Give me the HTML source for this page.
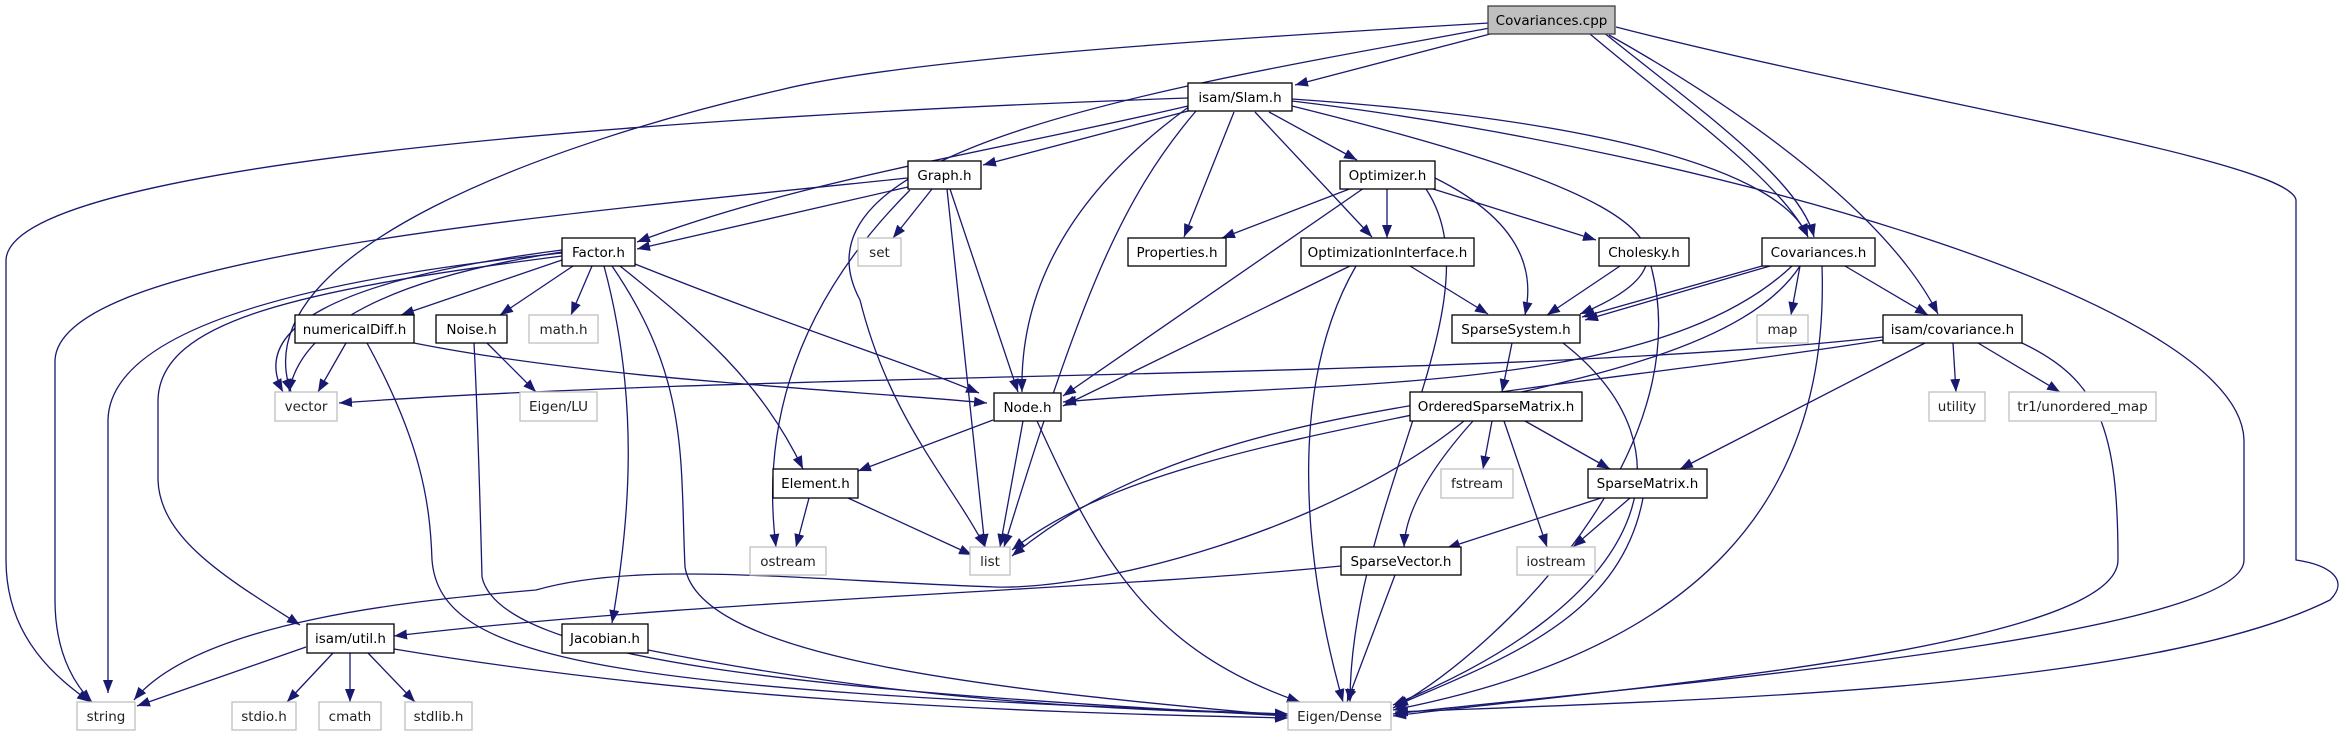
<!DOCTYPE html>
<html><head><meta charset="utf-8"><style>
html,body{margin:0;padding:0;background:#fff;}
svg{display:block;}
text{font-family:"DejaVu Sans","Liberation Sans",sans-serif;font-size:13.5px;text-anchor:middle;}
.n rect{fill:#fff;stroke:#000;stroke-width:1.3;}
.g rect{fill:#fff;stroke:#c0c0c0;stroke-width:1.3;}
.g text{fill:#222;}
.e path{fill:none;stroke:#191970;stroke-width:1.3;}
</style></head><body>
<svg width="2344" height="736" viewBox="0 0 2344 736" xmlns="http://www.w3.org/2000/svg">
<defs>
<marker id="a" markerUnits="userSpaceOnUse" markerWidth="14" markerHeight="10" refX="13" refY="5" orient="auto">
<path d="M0,0 L13,5 L0,10 z" fill="#191970"/>
</marker>
</defs>
<g class="e" marker-end="url(#a)">
<!-- Covariances.cpp -->
<path d="M1494,33 L1295,85"/>
<path d="M1590,34 C1680,110 1780,180 1808,237"/>
<path d="M1603,32 C1700,110 1800,180 1814,237"/>
<path d="M1609,35 C1760,120 1890,220 1938,314"/>
<path d="M1616,27 C1900,100 2290,160 2296,200 L2296,560 C2330,565 2350,580 2330,600 C2150,690 1700,700 1395,712"/>
<path d="M1489,23 C1200,40 900,60 780,90 C560,140 240,250 291,392"/>
<path d="M1490,28 C1150,90 780,150 860,300 C890,420 950,480 985,547"/>
<!-- Slam.h -->
<path d="M1188,98 C700,115 10,160 6,260 L6,560 C6,640 60,680 90,702"/>
<path d="M1188,106 C1000,150 800,180 637,242"/>
<path d="M1188,111 L983,165"/>
<path d="M1190,106 C1060,200 1020,300 1022,392"/>
<path d="M1196,111 C1120,200 1080,300 1004,547"/>
<path d="M1234,112 L1184,237"/>
<path d="M1269,112 L1357,160"/>
<path d="M1255,112 L1372,237"/>
<path d="M1292,106 C1550,170 1760,240 1580,314"/>
<path d="M1292,99 C1600,120 1780,170 1808,237"/>
<path d="M1292,101 C1700,150 2240,300 2244,440 L2244,560 C2244,640 1600,690 1393,714"/>
<!-- Graph.h -->
<path d="M908,187 L637,249"/>
<path d="M908,178 C500,220 60,260 55,360 L55,600 C55,660 80,690 92,702"/>
<path d="M932,189 L893,238"/>
<path d="M947,189 L985,547"/>
<path d="M950,189 L1018,392"/>
<path d="M910,190 C800,300 760,420 776,547"/>
<!-- Optimizer.h -->
<path d="M1352,188 L1222,238"/>
<path d="M1387,188 L1387,238"/>
<path d="M1430,188 L1596,240"/>
<path d="M1435,178 C1540,230 1530,290 1525,315"/>
<path d="M1364,188 L1063,396"/>
<path d="M1426,189 C1500,300 1350,500 1350,702"/>
<!-- OptimizationInterface.h -->
<path d="M1410,266 L1488,314"/>
<path d="M1350,266 L1063,406"/>
<path d="M1356,266 C1290,380 1300,550 1343,702"/>
<!-- Cholesky.h -->
<path d="M1620,266 L1547,315"/>
<path d="M1651,266 C1700,450 1500,650 1393,708"/>
<!-- Covariances.h -->
<path d="M1762,266 L1582,317"/>
<path d="M1770,266 L1585,320"/>
<path d="M1800,266 L1791,315"/>
<path d="M1845,266 L1928,315"/>
<path d="M1792,266 C1650,400 1300,380 1063,402"/>
<path d="M1800,266 C1700,420 1200,400 1012,550"/>
<path d="M1822,266 C1830,500 1700,650 1393,710"/>
<!-- isam/covariance.h -->
<path d="M1883,337 C1500,380 800,370 339,403"/>
<path d="M1883,340 C1500,400 1200,400 1012,556"/>
<path d="M1953,343 L1956,392"/>
<path d="M1978,343 L2060,392"/>
<path d="M1925,343 L1680,469"/>
<path d="M2022,343 C2100,380 2118,430 2118,560 C2118,650 1600,690 1393,716"/>
<!-- SparseSystem.h -->
<path d="M1512,343 L1502,392"/>
<path d="M1563,343 C1700,450 1650,600 1393,705"/>
<!-- OrderedSparseMatrix.h -->
<path d="M1492,421 L1483,469"/>
<path d="M1525,421 L1610,469"/>
<path d="M1473,421 C1420,480 1405,520 1404,547"/>
<path d="M1504,421 L1547,547"/>
<path d="M1464,421 C1330,530 1100,590 995,587 C800,580 640,560 536,590 C420,600 200,620 134,700"/>
<!-- SparseVector.h -->
<path d="M1341,566 C1100,590 700,600 394,636"/>
<path d="M1395,575 L1347,702"/>
<!-- SparseMatrix.h -->
<path d="M1601,498 L1447,548"/>
<path d="M1630,498 L1573,547"/>
<path d="M1643,498 C1620,620 1500,660 1395,706"/>
<!-- Node.h -->
<path d="M993,420 L858,471"/>
<path d="M1023,421 L1000,547"/>
<path d="M1037,421 C1100,560 1150,650 1300,702"/>
<!-- Element.h -->
<path d="M809,498 L796,547"/>
<path d="M848,498 L972,555"/>
<!-- Factor.h -->
<path d="M562,260 L401,315"/>
<path d="M573,266 L500,315"/>
<path d="M592,266 L571,315"/>
<path d="M635,264 C800,330 900,360 979,393"/>
<path d="M620,266 C700,330 760,380 803,469"/>
<path d="M604,266 C640,400 630,520 612,623"/>
<path d="M612,266 C690,380 680,460 685,567 C700,660 1000,690 1288,716"/>
<path d="M562,256 C300,290 160,320 158,400 L158,480 C160,540 230,580 300,625"/>
<path d="M562,253 C300,280 110,330 108,420 L108,693"/>
<path d="M562,250 C330,280 250,330 283,392"/>
<path d="M562,252 C380,280 300,330 289,392"/>
<!-- numericalDiff.h -->
<path d="M346,343 L318,392"/>
<path d="M414,343 C600,380 850,390 987,403"/>
<path d="M367,343 C420,440 430,500 432,560 C440,660 600,690 1288,714"/>
<!-- Noise.h -->
<path d="M487,343 L536,392"/>
<path d="M474,343 C478,420 480,500 482,577 C500,660 800,690 1288,716"/>
<!-- util.h -->
<path d="M306,647 L137,706"/>
<path d="M333,653 L287,702"/>
<path d="M350,653 L350,702"/>
<path d="M368,653 L415,702"/>
<path d="M394,649 C700,700 1000,712 1288,718"/>
<!-- Jacobian.h -->
<path d="M648,650 C900,700 1100,710 1288,714"/>
</g>

<!-- nodes -->
<g><rect x="1488" y="6" width="127" height="28" fill="#bfbfbf" stroke="#404040" stroke-width="1.3"/><text x="1551.5" y="25">Covariances.cpp</text></g>
<g class="n">
<rect x="1188" y="83" width="104" height="28"/><text x="1240" y="102">isam/Slam.h</text>
<rect x="908" y="161" width="73" height="28"/><text x="944.5" y="180">Graph.h</text>
<rect x="1340" y="161" width="95" height="28"/><text x="1387.5" y="180">Optimizer.h</text>
<rect x="562" y="238" width="73" height="28"/><text x="598.5" y="257">Factor.h</text>
<rect x="1128" y="238" width="98" height="28"/><text x="1177" y="257">Properties.h</text>
<rect x="1301" y="238" width="173" height="28"/><text x="1387.5" y="257">OptimizationInterface.h</text>
<rect x="1599" y="238" width="90" height="28"/><text x="1644" y="257">Cholesky.h</text>
<rect x="1762" y="238" width="113" height="28"/><text x="1818.5" y="257">Covariances.h</text>
<rect x="295" y="315" width="119" height="28"/><text x="354.5" y="334">numericalDiff.h</text>
<rect x="436" y="315" width="71" height="28"/><text x="471.5" y="334">Noise.h</text>
<rect x="1452" y="315" width="128" height="28"/><text x="1516" y="334">SparseSystem.h</text>
<rect x="1883" y="315" width="139" height="28"/><text x="1952.5" y="334">isam/covariance.h</text>
<rect x="994" y="393" width="67" height="28"/><text x="1027.5" y="412">Node.h</text>
<rect x="1410" y="392" width="172" height="29"/><text x="1496" y="411">OrderedSparseMatrix.h</text>
<rect x="773" y="469" width="85" height="29"/><text x="815.5" y="488">Element.h</text>
<rect x="1588" y="469" width="119" height="29"/><text x="1647.5" y="488">SparseMatrix.h</text>
<rect x="1341" y="547" width="120" height="28"/><text x="1401" y="566">SparseVector.h</text>
<rect x="307" y="624" width="87" height="29"/><text x="350.5" y="643">isam/util.h</text>
<rect x="562" y="624" width="86" height="29"/><text x="605" y="643">Jacobian.h</text>
</g>
<g class="g">
<rect x="858" y="238" width="43" height="28"/><text x="879.5" y="257">set</text>
<rect x="529" y="315" width="69" height="28"/><text x="563.5" y="334">math.h</text>
<rect x="1757" y="315" width="51" height="28"/><text x="1782.5" y="334">map</text>
<rect x="275" y="392" width="62" height="29"/><text x="306" y="411">vector</text>
<rect x="520" y="392" width="77" height="29"/><text x="558.5" y="411">Eigen/LU</text>
<rect x="1929" y="392" width="56" height="29"/><text x="1957" y="411">utility</text>
<rect x="2009" y="392" width="147" height="29"/><text x="2082.5" y="411">tr1/unordered_map</text>
<rect x="1441" y="469" width="72" height="29"/><text x="1477" y="488">fstream</text>
<rect x="750" y="547" width="76" height="28"/><text x="788" y="566">ostream</text>
<rect x="970" y="547" width="40" height="28"/><text x="990" y="566">list</text>
<rect x="1517" y="547" width="78" height="28"/><text x="1556" y="566">iostream</text>
<rect x="77" y="702" width="58" height="28"/><text x="106" y="721">string</text>
<rect x="232" y="702" width="64" height="28"/><text x="264" y="721">stdio.h</text>
<rect x="319" y="702" width="62" height="28"/><text x="350" y="721">cmath</text>
<rect x="405" y="702" width="67" height="28"/><text x="438.5" y="721">stdlib.h</text>
<rect x="1288" y="702" width="103" height="28"/><text x="1339.5" y="721">Eigen/Dense</text>
</g>
</svg>
</body></html>
